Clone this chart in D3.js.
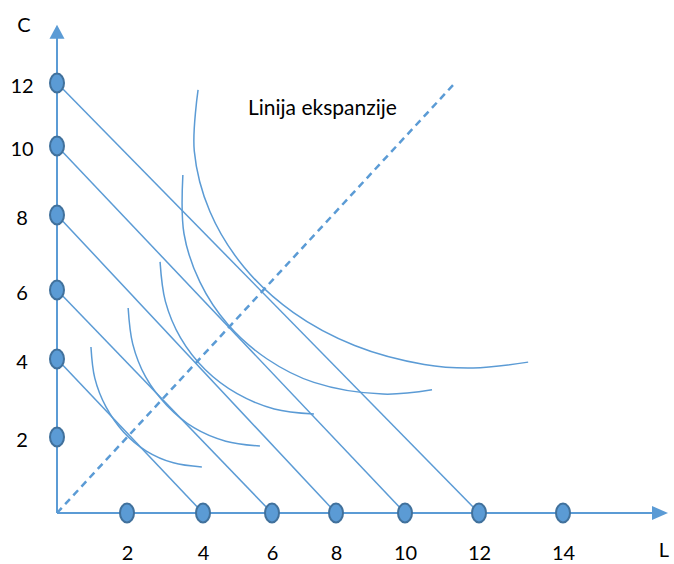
<!DOCTYPE html>
<html><head><meta charset="utf-8">
<script src="https://cdn.jsdelivr.net/npm/d3@7"></script>
<style>body{margin:0;background:#fff} text{font-family:Lato,"Open Sans",sans-serif;fill:#000}</style>
</head><body><svg id="c" width="674" height="564"></svg>
<script>
// ---- data ----
const lTicks = [2, 4, 6, 8, 10, 12, 14];        // labour (L) dots / labels
const cTicks = [2, 4, 6, 8, 10, 12];            // capital (C) dots / labels
const budgets = [4, 6, 8, 10, 12];              // isocost lines: L + C = b
const expansion = [[0, 0], [11.35, 12]];        // expansion path (dashed)
const isoquant1 = [[0.97,4.35],[1.08,3.51],[1.4,2.77],[1.9,2.13],[2.51,1.63],[3.22,1.32],[3.97,1.21]];
const isoquant2 = [[2.03,5.48],[2.15,4.44],[2.49,3.54],[3.05,2.81],[3.76,2.24],[4.66,1.89],[5.65,1.76]];
const isoquant3 = [[2.87,6.75],[3.01,5.67],[3.41,4.61],[4.06,3.73],[4.99,3.11],[6.07,2.72],[7.31,2.59]];
const isoquant4 = [[3.47,9.16],[3.5,7.5],[3.92,6.21],[4.73,4.99],[5.86,4.0],[7.31,3.4],[9.36,3.1],[10.73,3.21]];
const isoquant5 = [[3.87,11.78],[3.77,9.86],[4.2,8.1],[5.18,6.62],[6.66,5.35],[8.54,4.39],[10.52,3.86],[11.84,3.77],[13.17,3.92]];
const lMax = 16.5, cMax = 13.85;                // axis arrow tips
const expansionLabel = "Linija ekspanzije";

// ---- scales (hand-drawn spacing) ----
const x = d3.scaleLinear().domain([0,2,4,6,8,10,12,14]).range([57,127,203,272,336,405,479,563]);
const y = d3.scaleLinear().domain([0,2,4,6,8,10,12]).range([513,437,359,290,215,146,83]);

const blue = "#5B9BD5", dotStroke = "#41719C";
const svg = d3.select("#c");

// axes lines
const ax = svg.append("g");
ax.append("line").attr("x1", x(0)).attr("y1", y(0)).attr("x2", x(lMax) - 10).attr("y2", y(0))
  .attr("stroke", blue).attr("stroke-width", 2);
ax.append("line").attr("x1", x(0)).attr("y1", y(0)).attr("x2", x(0)).attr("y2", y(cMax) + 10)
  .attr("stroke", blue).attr("stroke-width", 2);
ax.append("path").attr("fill", blue)
  .attr("d", `M${x(lMax)},${y(0)} L${x(lMax)-16},${y(0)-7} L${x(lMax)-16},${y(0)+7} Z`);
ax.append("path").attr("fill", blue)
  .attr("d", `M${x(0)},${y(cMax)} L${x(0)-7.5},${y(cMax)+14} L${x(0)+7.5},${y(cMax)+14} Z`);

// axis labels via d3 axes
const gx = svg.append("g").attr("transform", `translate(0,${y(0)})`)
  .call(d3.axisBottom(x).tickValues(lTicks).tickSize(0).tickFormat(d3.format("d")));
gx.select(".domain").remove();
gx.selectAll("text").attr("y", 47).attr("dy", 0).style("font-size", "20px")
  .style("font-family", "Lato, 'Open Sans', sans-serif").attr("fill", "#000");

const gy = svg.append("g").attr("transform", `translate(${x(0)},0)`)
  .call(d3.axisLeft(y).tickValues(cTicks).tickSize(0).tickFormat(d3.format("d")));
gy.select(".domain").remove();
gy.selectAll("text").attr("x", -35).attr("dy", "0.47em").attr("text-anchor", "middle")
  .style("font-size", "20px").style("font-family", "Lato, 'Open Sans', sans-serif").attr("fill", "#000");

svg.append("text").attr("x", 24).attr("y", 32).attr("text-anchor", "middle")
  .style("font-size", "20px").text("C");
svg.append("text").attr("x", 664).attr("y", 557).attr("text-anchor", "middle")
  .style("font-size", "20px").text("L");

// expansion path
const line = d3.line().x(d => x(d[0])).y(d => y(d[1]));
svg.append("path").datum(expansion).attr("d", line)
  .attr("fill", "none").attr("stroke", blue).attr("stroke-width", 2.5).attr("stroke-dasharray", "7,5");
svg.append("text").attr("x", 248).attr("y", 115).style("font-size", "21px").text(expansionLabel);

// isocost lines
svg.append("g").selectAll("path").data(budgets).join("path")
  .attr("d", b => line([[0, b], [b, 0]]))
  .attr("fill", "none").attr("stroke", blue).attr("stroke-width", 1.5);

// isoquants
const curve = d3.line().x(d => x(d[0])).y(d => y(d[1])).curve(d3.curveCatmullRom.alpha(0.5));
svg.append("g").selectAll("path").data([isoquant1, isoquant2, isoquant3, isoquant4, isoquant5]).join("path")
  .attr("d", curve).attr("fill", "none").attr("stroke", blue).attr("stroke-width", 1.5);

// dots
svg.append("g").selectAll("ellipse").data(lTicks).join("ellipse")
  .attr("cx", d => x(d)).attr("cy", y(0)).attr("rx", 7).attr("ry", 9.5)
  .attr("fill", blue).attr("stroke", dotStroke).attr("stroke-width", 2);
svg.append("g").selectAll("ellipse").data(cTicks).join("ellipse")
  .attr("cx", x(0)).attr("cy", d => y(d)).attr("rx", 7).attr("ry", 9.5)
  .attr("fill", blue).attr("stroke", dotStroke).attr("stroke-width", 2);
</script></body></html>
